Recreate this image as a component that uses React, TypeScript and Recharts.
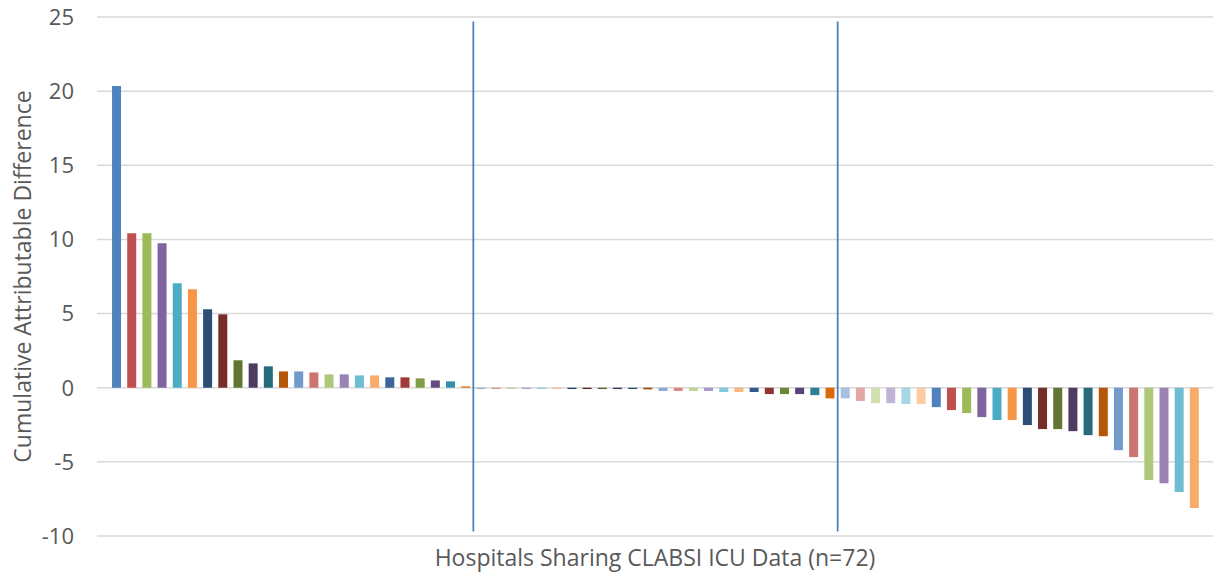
import { BarChart, Bar, Cell, XAxis, YAxis, CartesianGrid, ReferenceLine } from 'recharts'

// cumulative attributable difference per hospital, sorted high to low
const values = [
  20.35, 10.41, 10.41, 9.74, 7.04, 6.64, 5.29, 4.95, 1.85, 1.64, 1.44, 1.1,
  1.1, 1.03, 0.9, 0.9, 0.83, 0.83, 0.7, 0.7, 0.63, 0.49, 0.43, 0.09,
  -0.09, -0.09, -0.09, -0.09, -0.09, -0.09, -0.09, -0.09, -0.09, -0.09, -0.09, -0.11,
  -0.22, -0.22, -0.22, -0.22, -0.29, -0.29, -0.29, -0.43, -0.43, -0.43, -0.5, -0.72,
  -0.72, -0.9, -1.04, -1.04, -1.1, -1.1, -1.31, -1.51, -1.71, -1.98, -2.18, -2.18,
  -2.52, -2.79, -2.79, -2.93, -3.2, -3.27, -4.21, -4.68, -6.23, -6.44, -7.04, -8.12,
]

const base = ['#4F81BD', '#C0504D', '#9BBB59', '#8064A2', '#4BACC6', '#F79646']
const dark = ['#2C4D75', '#772C2A', '#5F7530', '#4D3B62', '#276A7C', '#B65708']
const light = ['#729ACA', '#CD7371', '#AFC97A', '#9983B5', '#6FBDD1', '#F9AB6B']
const mid = ['#3C6497', '#9E3A38', '#7F9D42', '#634C82', '#3390A8', '#E46C0A']
const pale = ['#95B3D7', '#D99694', '#C3D69B', '#B3A2C7', '#93CDDD', '#FAC090']
const darkest = ['#254061', '#632523', '#4F6228', '#3F3151', '#215968', '#984807']
const light2 = ['#8CAAD6', '#DA8987', '#BED495', '#A997C6', '#80C8DA', '#FBB87E']
const mid2 = ['#34598C', '#903432', '#6A8934', '#574478', '#2E7E94', '#DA6A0A']
const palest = ['#A7C0E1', '#E3A8A6', '#D0E0AE', '#C1B3D5', '#A7D7E3', '#FCCBA1']

const colors = [
  ...base, ...dark, ...light, ...mid, ...pale, ...darkest,
  ...light2, ...mid2, ...palest, ...base, ...dark, ...light,
]

const yTicks = [-10, -5, 0, 5, 10, 15, 20, 25]

// tertile split after hospital 24 and 48
const splits = [24, 48]

const data = values.map((v, i) => ({ hospital: i + 1, value: v }))

const font = '"Open Sans", sans-serif'

const App = () => {
  return (
    <div style={{ position: 'absolute', left: 0, top: 0, width: 1221, height: 575, background: '#fff' }}>
      <BarChart
        width={1221}
        height={575}
        data={data}
        margin={{ top: 17, right: 8, bottom: 0, left: 0 }}
        barCategoryGap="20%"
      >
        <CartesianGrid vertical={false} stroke="#D9D9D9" strokeWidth={1.5} />
        <XAxis
          dataKey="hospital"
          type="category"
          tick={false}
          tickLine={false}
          axisLine={false}
          height={39}
          padding={{ left: 12, right: 11 }}
          label={{
            value: 'Hospitals Sharing CLABSI ICU Data (n=72)',
            position: 'insideBottom',
            offset: 9,
            fill: '#595959',
            fontSize: 23,
            fontFamily: font,
          }}
        />
        <YAxis
          domain={[-10, 25]}
          ticks={yTicks}
          width={97}
          tickLine={false}
          axisLine={false}
          tickMargin={17}
          tick={{ fill: '#595959', fontSize: 22, fontFamily: font }}
          label={{
            value: 'Cumulative Attributable Difference',
            angle: -90,
            position: 'center',
            dx: -26,
            fill: '#595959',
            fontSize: 23,
            fontFamily: font,
          }}
        />
        <Bar dataKey="value" isAnimationActive={false}>
          {data.map((d, i) => (
            <Cell key={d.hospital} fill={colors[i]} />
          ))}
        </Bar>
        {splits.map((s) => (
          <ReferenceLine
            key={s}
            segment={[
              { x: s, y: 24.7 },
              { x: s, y: -9.7 },
            ]}
            position="end"
            stroke="#4A7EBB"
            strokeWidth={1.75}
          />
        ))}
      </BarChart>
    </div>
  )
}

export default App
